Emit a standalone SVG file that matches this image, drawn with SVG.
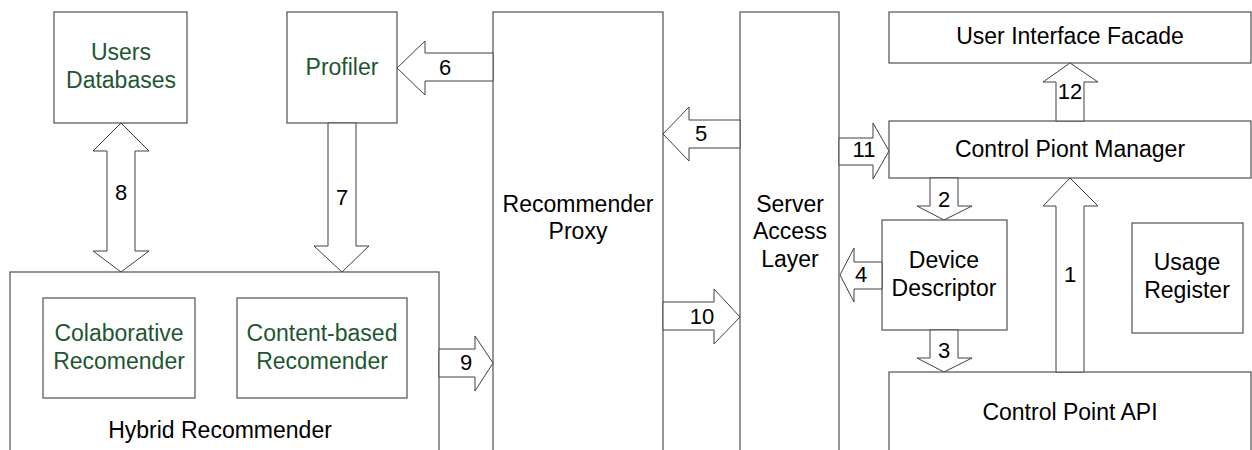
<svg xmlns="http://www.w3.org/2000/svg" width="1252" height="450" viewBox="0 0 1252 450">
<style>
.box{fill:#fff;stroke:#505050;stroke-width:1.2}
.arr{fill:#fff;stroke:#404040;stroke-width:1}
text{font-family:"Liberation Sans",Arial,sans-serif;font-size:23px;text-anchor:middle;fill:#000}
.g{fill:#1e5631}
.n{font-size:22px}
</style>
<rect width="1252" height="450" fill="#fff"/>
<g id="hybrid"><rect class="box" x="10" y="272" width="429" height="190"/><text x="220" y="438">Hybrid Recommender</text></g>
<g id="users-db"><rect class="box" x="54" y="12" width="133" height="111"/><text class="g" x="121" y="60">Users</text><text class="g" x="121" y="88">Databases</text></g>
<g id="profiler"><rect class="box" x="287" y="12" width="110" height="111"/><text class="g" x="342" y="75">Profiler</text></g>
<g id="colab"><rect class="box" x="43" y="298" width="152" height="100"/><text class="g" x="119" y="341">Colaborative</text><text class="g" x="119" y="369">Recomender</text></g>
<g id="content"><rect class="box" x="237" y="298" width="170" height="100"/><text class="g" x="322" y="341">Content-based</text><text class="g" x="322" y="369">Recomender</text></g>
<g id="proxy"><rect class="box" x="493" y="12" width="170" height="450"/><text x="578" y="212">Recommender</text><text x="578" y="239">Proxy</text></g>
<g id="sal"><rect class="box" x="740" y="12" width="99" height="450"/><text x="790" y="212">Server</text><text x="790" y="239">Access</text><text x="790" y="267">Layer</text></g>
<g id="uif"><rect class="box" x="889" y="12" width="362" height="51"/><text x="1070" y="44">User Interface Facade</text></g>
<g id="cpm"><rect class="box" x="889" y="121" width="362" height="57"/><text x="1070" y="157">Control Piont Manager</text></g>
<g id="dd"><rect class="box" x="882" y="220" width="125" height="110"/><text x="944" y="268">Device</text><text x="944" y="296">Descriptor</text></g>
<g id="usage"><rect class="box" x="1132" y="223" width="111" height="110"/><text x="1187" y="270">Usage</text><text x="1187" y="298">Register</text></g>
<g id="cpapi"><rect class="box" x="889" y="372" width="362" height="90"/><text x="1070" y="420">Control Point API</text></g>
<g id="connectors">
<polygon class="arr" points="493,53 425,53 425,41 397,68 425,95 425,81 493,81"/><text class="n" x="445" y="75">6</text>
<polygon class="arr" points="121,123 149,151 135,151 135,251 149,251 121,272 93,251 107,251 107,151 93,151"/><text class="n" x="121" y="200">8</text>
<polygon class="arr" points="328,123 328,246 314,246 342,272 369,246 356,246 356,123"/><text class="n" x="342" y="205">7</text>
<polygon class="arr" points="740,120 689,120 689,107 663,134 689,161 689,148 740,148"/><text class="n" x="701" y="141">5</text>
<polygon class="arr" points="839,138 873,138 873,123 889,151 873,179 873,165 839,165"/><text class="n" x="864" y="157">11</text>
<polygon class="arr" points="882,262 854,262 854,248 840,275 854,302 854,289 882,289"/><text class="n" x="861" y="282">4</text>
<polygon class="arr" points="663,302 714,302 714,289 740,317 714,344 714,330 663,330"/><text class="n" x="702" y="324">10</text>
<polygon class="arr" points="439,349 475,349 475,336 493,363 475,391 475,377 439,377"/><text class="n" x="466" y="370">9</text>
<polygon class="arr" points="1056,121 1056,82 1043,82 1070,63 1098,82 1084,82 1084,121"/><text class="n" x="1070" y="99">12</text>
<polygon class="arr" points="1056,372 1056,206 1043,206 1070,178 1098,206 1084,206 1084,372"/><text class="n" x="1070" y="282">1</text>
<polygon class="arr" points="930,178 930,206 917,206 944,220 972,206 958,206 958,178"/><text class="n" x="944" y="207">2</text>
<polygon class="arr" points="930,330 930,358 917,358 944,372 972,358 958,358 958,330"/><text class="n" x="944" y="358">3</text>
</g>
</svg>
